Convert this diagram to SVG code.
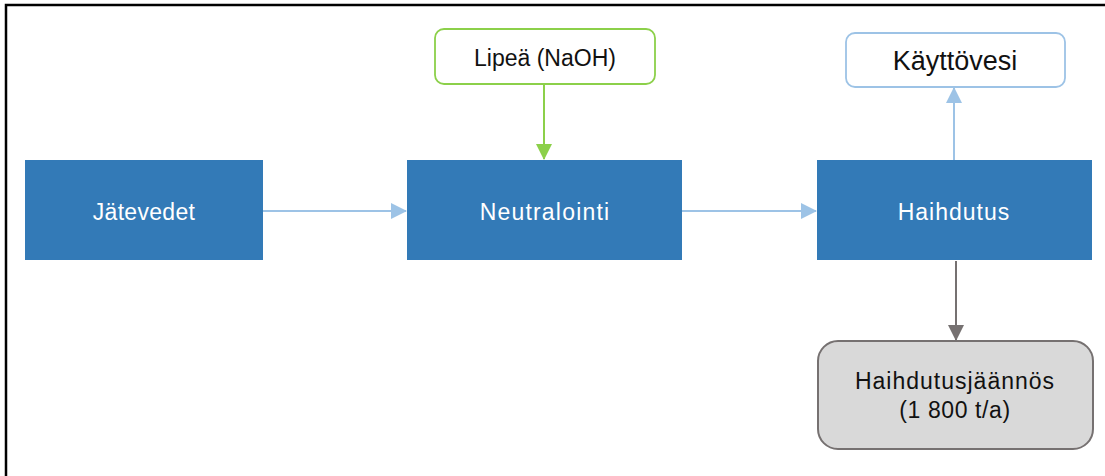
<svg xmlns="http://www.w3.org/2000/svg" width="1105" height="476" viewBox="0 0 1105 476">
<style>
text{font-family:"Liberation Sans",Arial,sans-serif;text-anchor:middle}
.proc{fill:#337AB7}
.wt{fill:#ffffff;font-size:23px}
.bt{fill:#111111}
.c{fill:none;stroke-width:2}
</style>
<defs>
<marker id="aBlue" markerWidth="16" markerHeight="16" viewBox="0 0 16 16" refX="15" refY="8" orient="auto" markerUnits="userSpaceOnUse"><path d="M0,0 L16,8 L0,16 Z" fill="#9DC3E6"/></marker>
<marker id="aGreen" markerWidth="16" markerHeight="16" viewBox="0 0 16 16" refX="15" refY="8" orient="auto" markerUnits="userSpaceOnUse"><path d="M0,0 L16,8 L0,16 Z" fill="#8CD04A"/></marker>
<marker id="aGray" markerWidth="16" markerHeight="16" viewBox="0 0 16 16" refX="15" refY="8" orient="auto" markerUnits="userSpaceOnUse"><path d="M0,0 L16,8 L0,16 Z" fill="#767171"/></marker>
</defs>
<rect width="1105" height="476" fill="#ffffff"/>
<path d="M6,476 L6,5 L1105,5" fill="none" stroke="#000000" stroke-width="2.5"/>
<g id="connectors">
<line class="c" x1="263" y1="211" x2="406" y2="211" stroke="#9DC3E6" marker-end="url(#aBlue)"/>
<line class="c" x1="682" y1="211" x2="816" y2="211" stroke="#9DC3E6" marker-end="url(#aBlue)"/>
<line class="c" x1="544" y1="85" x2="544" y2="159" stroke="#8CD04A" marker-end="url(#aGreen)"/>
<line class="c" x1="954" y1="160" x2="954" y2="88" stroke="#9DC3E6" marker-end="url(#aBlue)"/>
<line class="c" x1="956" y1="261" x2="956" y2="340" stroke="#767171" marker-end="url(#aGray)"/>
</g>
<g id="jatevedet">
<rect class="proc" x="25" y="160" width="238" height="100"/>
<text class="wt" x="144" y="220" letter-spacing="0.3">Jätevedet</text>
</g>
<g id="neutralointi">
<rect class="proc" x="407" y="160" width="275" height="100"/>
<text class="wt" x="545" y="220" letter-spacing="1.2">Neutralointi</text>
</g>
<g id="haihdutus">
<rect class="proc" x="817" y="160" width="275" height="100"/>
<text class="wt" x="954" y="220" letter-spacing="1">Haihdutus</text>
</g>
<g id="lipea">
<rect x="435" y="29" width="220" height="55" rx="9" fill="#ffffff" stroke="#8CD04A" stroke-width="1.8"/>
<text class="bt" x="545" y="66" font-size="23">Lipeä (NaOH)</text>
</g>
<g id="kayttovesi">
<rect x="846" y="33" width="219" height="54" rx="9" fill="#ffffff" stroke="#9DC3E6" stroke-width="1.8"/>
<text class="bt" x="955" y="70" font-size="27">Käyttövesi</text>
</g>
<g id="haihdutusjaannos">
<rect x="818" y="341" width="275" height="108" rx="20" fill="#D9D9D9" stroke="#767171" stroke-width="2"/>
<text class="bt" x="955" y="389" font-size="23" letter-spacing="1">Haihdutusjäännös</text>
<text class="bt" x="955" y="418" font-size="23" letter-spacing="0.6">(1 800 t/a)</text>
</g>
</svg>
